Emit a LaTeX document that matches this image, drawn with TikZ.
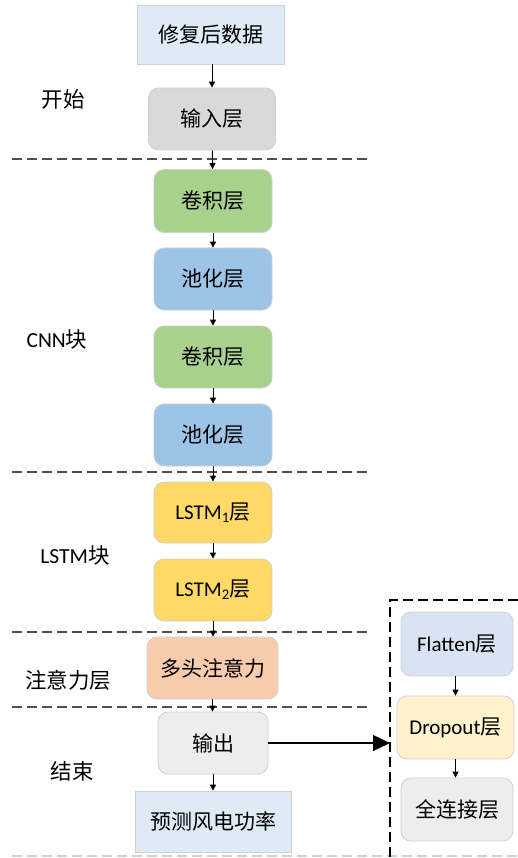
\documentclass[tikz,border=0pt]{standalone}
\usepackage{fontspec}
\setmainfont{Carlito}
\newfontfamily\cjk{Noto Sans CJK SC}
\usetikzlibrary{arrows.meta}
\definecolor{bxblue}{HTML}{DEEBF7}
\definecolor{bxgray}{HTML}{D9D9D9}
\definecolor{bxgreen}{HTML}{A9D18E}
\definecolor{bxsky}{HTML}{9DC3E6}
\definecolor{bxyellow}{HTML}{FFD966}
\definecolor{bxorange}{HTML}{F8CBAD}
\definecolor{bxlight}{HTML}{EDEDED}
\definecolor{bxlav}{HTML}{DAE3F3}
\definecolor{bxcream}{HTML}{FFF2CC}
\definecolor{bdr}{HTML}{D0D0D0}
\definecolor{dashc}{HTML}{505050}
\newcommand{\zh}[1]{{\cjk #1}}
\begin{document}
\begin{tikzpicture}[x=1pt,y=-1pt,
  base/.style={draw=bdr, line width=0.8pt, inner sep=0pt, font=\fontsize{21}{24}\selectfont},
  sq/.style={base},
  rd/.style={base, rounded corners=10pt},
  lab/.style={font=\fontsize{21.5}{24}\selectfont},
  arr/.style={-{Triangle[length=6pt,width=6pt]}, line width=1pt, black},
  sep/.style={dashc, line width=1.3pt, dash pattern=on 10pt off 5pt}]
\useasboundingbox (0,0) rectangle (518,858);
% separators
\draw[sep] (12,159) -- (368,159);
\draw[sep] (12,472) -- (368,472);
\draw[sep] (12,632) -- (368,632);
\draw[sep] (12,707) -- (368,707);
\draw[bdr, line width=1.3pt, dash pattern=on 10pt off 5pt] (12,856) -- (518,856);
\draw[black, line width=1.2pt, dash pattern=on 10pt off 5pt] (518,600) -- (390,600) -- (390,858);
% main column
\node[sq, fill=bxblue, minimum width=147pt, minimum height=59pt] (data) at (210.5,34.5) {\zh{修复后数据}};
\node[rd, fill=bxgray, minimum width=127pt, minimum height=62pt] (inp) at (212,119) {\zh{输入层}};
\node[rd, fill=bxgreen, minimum width=118pt, minimum height=63pt] (c1) at (213,201) {\zh{卷积层}};
\node[rd, fill=bxsky, minimum width=118pt, minimum height=62pt] (p1) at (213,279) {\zh{池化层}};
\node[rd, fill=bxgreen, minimum width=118pt, minimum height=62pt] (c2) at (213,357) {\zh{卷积层}};
\node[rd, fill=bxsky, minimum width=118pt, minimum height=62pt] (p2) at (213,435) {\zh{池化层}};
\node[rd, fill=bxyellow, minimum width=118pt, minimum height=61pt] (l1) at (213,512.5) {LSTM\textsubscript{1}\zh{层}};
\node[rd, fill=bxyellow, minimum width=118pt, minimum height=62pt] (l2) at (213,590) {LSTM\textsubscript{2}\zh{层}};
\node[rd, fill=bxorange, minimum width=131pt, minimum height=62pt] (att) at (212.5,668) {\zh{多头注意力}};
\node[rd, fill=bxlight, minimum width=110pt, minimum height=62pt] (out) at (213,743) {\zh{输出}};
\node[sq, fill=bxblue, minimum width=156pt, minimum height=61pt] (pred) at (213,821.5) {\zh{预测风电功率}};
% right column
\node[rd, fill=bxlav, minimum width=112pt, minimum height=64pt] (fl) at (457,644) {Flatten\zh{层}};
\node[rd, fill=bxcream, minimum width=117pt, minimum height=63pt] (dr) at (455.5,727.5) {Dropout\zh{层}};
\node[rd, fill=bxlight, minimum width=112pt, minimum height=63pt] (fc) at (457,809.5) {\zh{全连接层}};
\coordinate (rin) at (390,743);
% labels
\node[lab] (t1) at (63,99) {\zh{开始}};
\node[lab] (t2) at (57,339) {CNN\zh{块}};
\node[lab] (t3) at (75,555) {LSTM\zh{块}};
\node[lab] (t4) at (68,680) {\zh{注意力层}};
\node[lab] (t5) at (72,771) {\zh{结束}};
% arrows
\draw[arr] (data.south -| inp.north) -- (inp.north);
\draw[arr] (inp) -- (c1);
\draw[arr] (c1) -- (p1);
\draw[arr] (p1) -- (c2);
\draw[arr] (c2) -- (p2);
\draw[arr] (p2) -- (l1);
\draw[arr] (l1) -- (l2);
\draw[arr] (l2.south) -- (l2.south |- att.north);
\draw[arr] (att.south) -- (att.south |- out.north);
\draw[arr] (out) -- (out |- pred.north);
\draw[arr] (fl.south -| dr.north) -- (dr.north);
\draw[arr] (dr) -- (dr |- fc.north);
\draw[-{Triangle[length=17pt,width=16pt]}, line width=1.2pt] (out.east) -- (rin);
\end{tikzpicture}
\end{document}
